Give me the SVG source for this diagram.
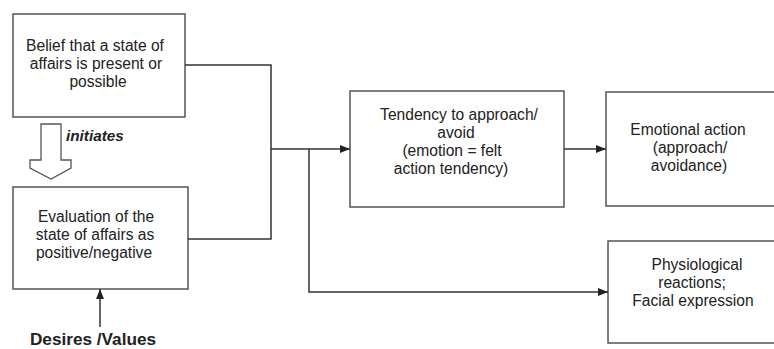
<svg xmlns="http://www.w3.org/2000/svg" width="774" height="349" viewBox="0 0 774 349">
<style>
.box{fill:#fff;stroke:#555;stroke-width:1.5}
.t{font-family:"Liberation Sans",Arial,sans-serif;font-size:15.6px;fill:#222;text-anchor:middle}
.ln{fill:none;stroke:#333;stroke-width:1.5}
</style>
<defs>
<marker id="ah" viewBox="0 0 10 8" refX="10" refY="4" markerWidth="10" markerHeight="8" markerUnits="userSpaceOnUse" orient="auto">
<path d="M0,0 L10,4 L0,8 Z" fill="#222"/>
</marker>
</defs>
<rect width="774" height="349" fill="#fff"/>
<g id="belief">
<rect class="box" x="13" y="14" width="172" height="103"/>
<text class="t" x="95" y="51">Belief that a state of</text>
<text class="t" x="96" y="69">affairs is present or</text>
<text class="t" x="98" y="87">possible</text>
</g>
<g id="evaluation">
<rect class="box" x="13" y="187" width="175" height="102"/>
<text class="t" x="96" y="222">Evaluation of the</text>
<text class="t" x="95" y="240">state of affairs as</text>
<text class="t" x="94" y="258">positive/negative</text>
</g>
<g id="tendency">
<rect class="box" x="350" y="91" width="214" height="116"/>
<text class="t" x="459" y="120">Tendency to approach/</text>
<text class="t" x="456" y="138">avoid</text>
<text class="t" x="452" y="156">(emotion = felt</text>
<text class="t" x="451" y="174">action tendency)</text>
</g>
<g id="action">
<rect class="box" x="606" y="92" width="180" height="114"/>
<text class="t" x="688" y="135">Emotional action</text>
<text class="t" x="690" y="153">(approach/</text>
<text class="t" x="689" y="171">avoidance)</text>
</g>
<g id="physio">
<rect class="box" x="608" y="241" width="180" height="102"/>
<text class="t" x="697" y="270">Physiological</text>
<text class="t" x="692" y="288">reactions;</text>
<text class="t" x="693" y="306">Facial expression</text>
</g>
<g id="initiates">
<polygon points="41,124 61,124 61,160 71,160 71,168 51,179 30,168 30,160 41,160" fill="#fff" stroke="#555" stroke-width="1.3"/>
<text x="66" y="141" font-family="'Liberation Sans',Arial,sans-serif" font-size="15.3" font-weight="bold" font-style="italic" fill="#222">initiates</text>
</g>
<g id="desires">
<text x="93" y="345" font-family="'Liberation Sans',Arial,sans-serif" font-size="17.2" font-weight="bold" fill="#222" text-anchor="middle">Desires /Values</text>
</g>
<g id="connectors">
<polyline class="ln" points="185,65 271,65 271,239 188,239"/>
<line class="ln" x1="271" y1="149" x2="350" y2="149" marker-end="url(#ah)"/>
<polyline class="ln" points="309,149 309,292 608,292" marker-end="url(#ah)"/>
<line class="ln" x1="564" y1="149" x2="606" y2="149" marker-end="url(#ah)"/>
<line class="ln" x1="100" y1="327" x2="100" y2="289" marker-end="url(#ah)"/>
</g>
</svg>
